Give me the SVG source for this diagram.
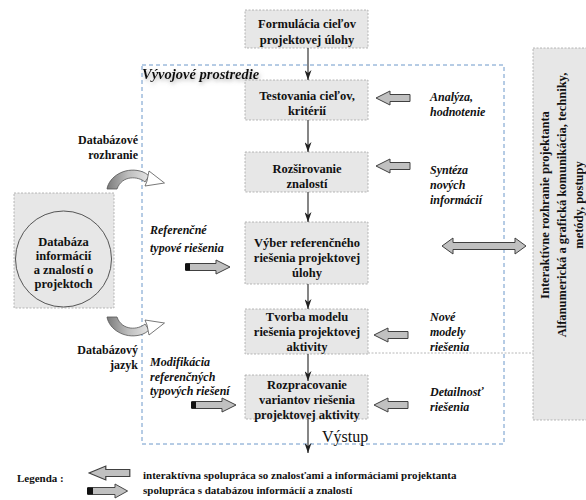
<svg xmlns="http://www.w3.org/2000/svg" width="586" height="500" viewBox="0 0 586 500">
<defs>
<style>
.box{fill:#e7e7e7;stroke:#a6a6a6;stroke-width:0.8;stroke-dasharray:2,1.5}
.bt{font-family:"Liberation Serif",serif;font-weight:bold;font-size:12.5px;fill:#111;text-anchor:middle}
.lab{font-family:"Liberation Serif",serif;font-weight:bold;font-style:italic;font-size:12px;fill:#111}
.lbr{font-family:"Liberation Serif",serif;font-weight:bold;font-size:12px;fill:#111;text-anchor:end}
.leg{font-family:"Liberation Serif",serif;font-weight:bold;font-size:11px;fill:#111}
.rot{font-family:"Liberation Serif",serif;font-weight:bold;font-size:12.5px;fill:#111;text-anchor:middle}
.conn{stroke:#222;stroke-width:1.1;fill:none;marker-end:url(#ah)}
.blk{fill:#c0c0c0;stroke:#404040;stroke-width:1}
.env{fill:none;stroke:#5b8cc4;stroke-width:0.9;stroke-dasharray:4,3}
</style>
<marker id="ah" markerUnits="userSpaceOnUse" markerWidth="7" markerHeight="10" refX="3.5" refY="10" orient="0" viewBox="0 0 7 10">
<path d="M0,0 L3.5,10 L7,0 L3.5,3 Z" fill="#222"/>
</marker>
<path id="la" d="M0,0 L14,-7 L14,-3.5 L34,-3.5 L34,3.5 L14,3.5 L14,7 Z"/>
<g id="ra">
<path d="M0,-3.5 L30,-3.5 L30,-7 L44,0 L30,7 L30,3.5 L0,3.5 Z"/>
</g>
<linearGradient id="cg" x1="0" y1="0" x2="1" y2="0">
<stop offset="0" stop-color="#7a7a7a"/>
<stop offset="0.5" stop-color="#bdbdbd"/>
<stop offset="1" stop-color="#e4e4e4"/>
</linearGradient>
<filter id="sh" x="-10%" y="-50%" width="120%" height="200%">
<feDropShadow dx="1" dy="2" stdDeviation="2" flood-color="#777" flood-opacity="0.6"/>
</filter>
<g id="curv">
<path d="M107,189 C109,177 124,167 140,171 C144,172 147,174 149,176 L145,182 C138,176 122,175 117,189 Z" fill="url(#cg)" stroke="#555" stroke-width="0.8"/>
<path d="M149,171 L164.5,183 L145,186 L147,181 Z" fill="#fff" stroke="#555" stroke-width="0.8"/>
</g>
</defs>
<rect width="586" height="500" fill="#fff"/>

<!-- environment -->
<g id="env">
<rect class="env" x="142" y="65" width="362" height="379"/>
<text x="142" y="79" font-family="Liberation Serif,serif" font-weight="bold" font-style="italic" font-size="14.5px" fill="#111" filter="url(#sh)">Vývojové prostredie</text>
</g>

<!-- right interface -->
<g id="interface">
<rect x="533" y="48" width="60" height="372" fill="#e7e7e7" stroke="#a6a6a6" stroke-width="0.8" stroke-dasharray="2,1.5"/>
<line x1="368" y1="353" x2="533" y2="353" stroke="#a6a6a6" stroke-width="0.8" stroke-dasharray="2,1.5"/>
<text class="rot" x="549" y="205" transform="rotate(-90 549 205)">Interaktívne rozhranie projektanta</text>
<text class="rot" x="566" y="205" transform="rotate(-90 566 205)">Alfanumerická a grafická komunikácia, techniky,</text>
<text class="rot" x="583" y="205" transform="rotate(-90 583 205)">metódy, postupy</text>
</g>

<!-- database -->
<g id="database">
<rect x="14" y="193" width="100" height="115" fill="#e7e7e7" stroke="#a6a6a6" stroke-width="0.8" stroke-dasharray="2,1.5"/>
<circle cx="63.5" cy="259" r="48" fill="#e7e7e7" stroke="#444" stroke-width="0.9"/>
<text class="bt" x="63.5" y="246">Databáza</text>
<text class="bt" x="63.5" y="260">informácií</text>
<text class="bt" x="63.5" y="274">a znalostí o</text>
<text class="bt" x="63.5" y="288">projektoch</text>
</g>

<!-- main boxes -->
<g id="formulacia">
<rect class="box" x="245" y="10" width="123" height="38"/>
<text class="bt" x="307" y="28">Formulácia cieľov</text>
<text class="bt" x="307" y="44">projektovej úlohy</text>
</g>
<g id="testovania">
<rect class="box" x="245" y="80" width="123" height="40"/>
<text class="bt" x="307" y="100">Testovania cieľov,</text>
<text class="bt" x="307" y="115">kritérií</text>
</g>
<g id="rozsirovanie">
<rect class="box" x="245" y="152" width="123" height="40"/>
<text class="bt" x="307" y="173">Rozširovanie</text>
<text class="bt" x="307" y="188">znalostí</text>
</g>
<g id="vyber">
<rect class="box" x="245" y="222" width="123" height="62"/>
<text class="bt" x="307" y="247">Výber referenčného</text>
<text class="bt" x="307" y="262">riešenia projektovej</text>
<text class="bt" x="307" y="277">úlohy</text>
</g>
<g id="tvorba">
<rect class="box" x="245" y="309" width="123" height="45"/>
<text class="bt" x="307" y="321">Tvorba modelu</text>
<text class="bt" x="307" y="336">riešenia projektovej</text>
<text class="bt" x="307" y="351">aktivity</text>
</g>
<g id="rozpracovanie">
<rect class="box" x="245" y="375" width="123" height="44"/>
<text class="bt" x="307" y="389">Rozpracovanie</text>
<text class="bt" x="307" y="404">variantov riešenia</text>
<text class="bt" x="307" y="419">projektovej aktivity</text>
</g>

<!-- connectors -->
<g id="connectors">
<line class="conn" x1="308" y1="48" x2="308" y2="80"/>
<line class="conn" x1="308" y1="120" x2="308" y2="152"/>
<line class="conn" x1="308" y1="192" x2="308" y2="222"/>
<line class="conn" x1="308" y1="284" x2="308" y2="309"/>
<line class="conn" x1="308" y1="354" x2="308" y2="381"/>
<line class="conn" x1="308" y1="419" x2="308" y2="453"/>
<text x="322" y="442" font-family="Liberation Serif,serif" font-size="16px" fill="#111">Výstup</text>

<use href="#la" class="blk" transform="translate(376,98)"/>
<use href="#la" class="blk" transform="translate(376,166)"/>
<use href="#la" class="blk" transform="translate(374,335)"/>
<use href="#la" class="blk" transform="translate(374,405)"/>

<use href="#ra" class="blk" transform="translate(186,267)"/>
<rect x="185" y="263.5" width="5" height="7" fill="#111"/>
<use href="#ra" class="blk" transform="translate(192,405)"/>
<rect x="191" y="401.5" width="5" height="7" fill="#111"/>

<path class="blk" d="M442,246 L453,238 L453,242.5 L515,242.5 L515,238 L526,246 L515,254 L515,249.5 L453,249.5 L453,254 Z"/>

<use href="#curv"/>
<use href="#curv" transform="matrix(1,0,0,-1,0,506)"/>
</g>

<!-- labels -->
<g id="labels">
<text class="lab" x="430" y="101">Analýza,</text>
<text class="lab" x="430" y="116">hodnotenie</text>
<text class="lab" x="430" y="174">Syntéza</text>
<text class="lab" x="430" y="189">nových</text>
<text class="lab" x="430" y="204">informácií</text>
<text class="lab" x="430" y="321">Nové</text>
<text class="lab" x="430" y="336">modely</text>
<text class="lab" x="430" y="351">riešenia</text>
<text class="lab" x="430" y="396">Detailnosť</text>
<text class="lab" x="430" y="411">riešenia</text>
<text class="lab" x="150" y="234">Referenčné</text>
<text class="lab" x="150" y="252">typové riešenia</text>
<text class="lab" x="150" y="366">Modifikácia</text>
<text class="lab" x="150" y="381">referenčných</text>
<text class="lab" x="150" y="395">typových riešení</text>
<text class="lbr" x="138" y="144">Databázové</text>
<text class="lbr" x="138" y="159">rozhranie</text>
<text class="lbr" x="138" y="354">Databázový</text>
<text class="lbr" x="138" y="369">jazyk</text>
</g>

<!-- legend -->
<g id="legend">
<text class="leg" x="17" y="482" font-size="12px">Legenda :</text>
<use href="#la" class="blk" transform="translate(89,473) scale(1.2,1)"/>
<use href="#ra" class="blk" transform="translate(88,491) scale(0.9,1)"/>
<rect x="87" y="487.5" width="6" height="7" fill="#111"/>
<text class="leg" x="143" y="479">interaktívna spolupráca so znalosťami a informáciami projektanta</text>
<text class="leg" x="143" y="494">spolupráca s databázou informácií a znalostí</text>
</g>
</svg>
